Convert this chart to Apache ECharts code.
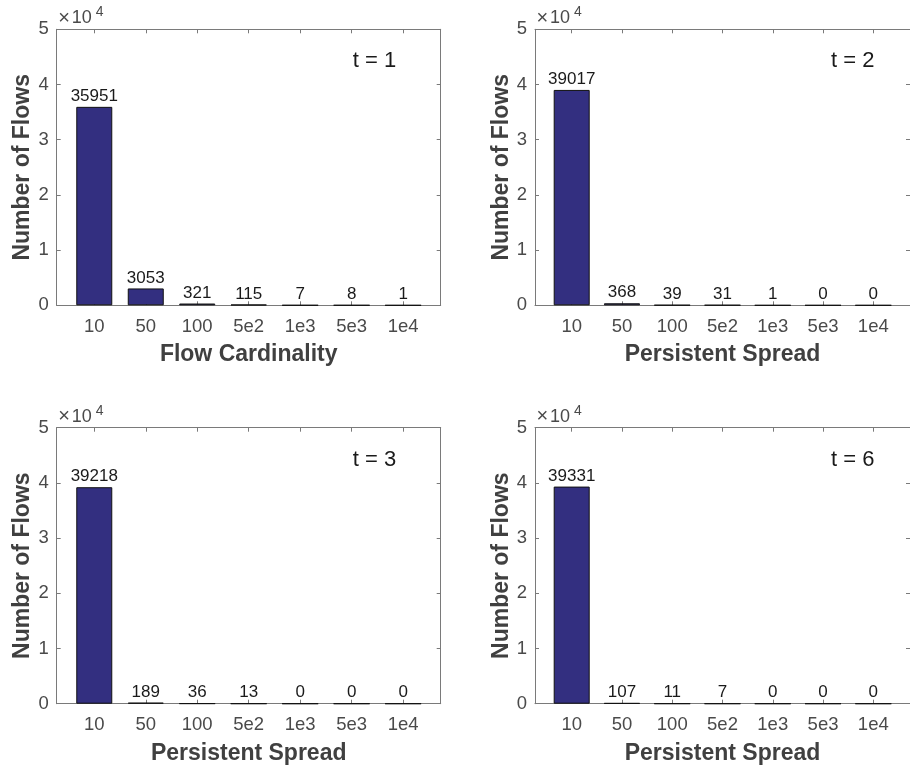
<!DOCTYPE html>
<html>
<head>
<meta charset="utf-8">
<script src="https://cdn.jsdelivr.net/npm/echarts@6/dist/echarts.min.js"></script>
<style>
html,body{margin:0;padding:0;background:#fff;}
#chart{width:910px;height:770px;}
</style>
</head>
<body>
<div id="chart"></div>
<script>
// ---- data ----
const categories = ['10', '50', '100', '5e2', '1e3', '5e3', '1e4'];
const flowsT1 = [35951, 3053, 321, 115, 7, 8, 1];
const flowsT2 = [39017, 368, 39, 31, 1, 0, 0];
const flowsT3 = [39218, 189, 36, 13, 0, 0, 0];
const flowsT6 = [39331, 107, 11, 7, 0, 0, 0];
const panelLabels = ['t = 1', 't = 2', 't = 3', 't = 6'];
const xTitles = ['Flow Cardinality', 'Persistent Spread', 'Persistent Spread', 'Persistent Spread'];
const yTitle = 'Number of Flows';

// ---- layout ----
const seriesList = [flowsT1, flowsT2, flowsT3, flowsT6];
const panels = [
  {left: 56.7, top: 29.3},
  {left: 535, top: 29.3},
  {left: 56.7, top: 427.7},
  {left: 535, top: 427.7}
];
const W = 384, H = 276;
const FONT = "'Liberation Sans', Arial, Helvetica, sans-serif";
const lineColor = '#7a7a7a';
const tickColor = '#4a4a4a';
const titleColor = '#404040';
const catPos = categories.map((c, i) => i + 1);

const grids = [], xAxes = [], yAxes = [], series = [], graphics = [];
panels.forEach((p, k) => {
  grids.push({left: p.left, top: p.top, width: W, height: H, containLabel: false});
  // bottom x axis
  xAxes.push({
    gridIndex: k, type: 'value', min: 0.27, max: 7.73, position: 'bottom',
    axisLine: {show: true, onZero: false, lineStyle: {color: lineColor, width: 1}},
    axisTick: {show: true, inside: true, length: 4, customValues: catPos, lineStyle: {color: lineColor}},
    axisLabel: {show: true, customValues: catPos, formatter: v => categories[Math.round(v) - 1],
      fontSize: 18.5, color: tickColor, fontFamily: FONT, margin: 12},
    splitLine: {show: false},
    name: xTitles[k], nameLocation: 'middle', nameGap: 38,
    nameTextStyle: {fontSize: 23, fontWeight: 'bold', color: titleColor, fontFamily: FONT}
  });
  // top x axis (box)
  xAxes.push({
    gridIndex: k, type: 'value', min: 0.27, max: 7.73, position: 'top',
    axisLine: {show: true, onZero: false, lineStyle: {color: lineColor, width: 1}},
    axisTick: {show: true, inside: true, length: 4, customValues: catPos, lineStyle: {color: lineColor}},
    axisLabel: {show: false}, splitLine: {show: false}
  });
  // left y axis
  yAxes.push({
    gridIndex: k, type: 'value', min: 0, max: 50000, interval: 10000, position: 'left',
    axisLine: {show: true, onZero: false, lineStyle: {color: lineColor, width: 1}},
    axisTick: {show: true, inside: true, length: 4, lineStyle: {color: lineColor}},
    axisLabel: {show: true, formatter: v => String(v / 10000), fontSize: 18.5, color: tickColor,
      fontFamily: FONT, margin: 8},
    splitLine: {show: false},
    name: yTitle, nameLocation: 'middle', nameGap: 22, nameRotate: 90,
    nameTextStyle: {fontSize: 23, fontWeight: 'bold', color: titleColor, fontFamily: FONT}
  });
  // right y axis (box)
  yAxes.push({
    gridIndex: k, type: 'value', min: 0, max: 50000, interval: 10000, position: 'right',
    axisLine: {show: true, onZero: false, lineStyle: {color: lineColor, width: 1}},
    axisTick: {show: true, inside: true, length: 4, lineStyle: {color: lineColor}},
    axisLabel: {show: false}, splitLine: {show: false}
  });
  series.push({
    type: 'bar', xAxisIndex: 2 * k, yAxisIndex: 2 * k,
    data: seriesList[k].map((v, i) => [catPos[i], v]),
    barWidth: 36,
    itemStyle: {color: '#332f80', borderColor: '#111', borderWidth: 1},
    label: {show: true, position: 'top', distance: 2, fontSize: 17, color: '#1a1a1a',
      fontFamily: FONT, formatter: p => String(p.value[1])},
    silent: true, animation: false
  });
  graphics.push({
    type: 'text', left: p.left + 296, top: p.top + 21,
    style: {text: panelLabels[k], fontSize: 22, fill: '#1a1a1a', fontFamily: FONT}
  });
  graphics.push({
    type: 'text', left: p.left + 1.5, top: p.top - 21,
    style: {text: '\u00d7', fontSize: 20, fill: tickColor, fontFamily: FONT}
  });
  graphics.push({
    type: 'text', left: p.left + 15, top: p.top - 20,
    style: {text: '10', fontSize: 18, fill: tickColor, fontFamily: FONT}
  });
  graphics.push({
    type: 'text', left: p.left + 39, top: p.top - 24,
    style: {text: '4', fontSize: 14, fill: tickColor, fontFamily: FONT}
  });
});

const chart = echarts.init(document.getElementById('chart'), null, {renderer: 'canvas'});
chart.setOption({
  backgroundColor: '#ffffff',
  animation: false,
  grid: grids,
  xAxis: xAxes,
  yAxis: yAxes,
  series: series,
  graphic: graphics
});
</script>
</body>
</html>
